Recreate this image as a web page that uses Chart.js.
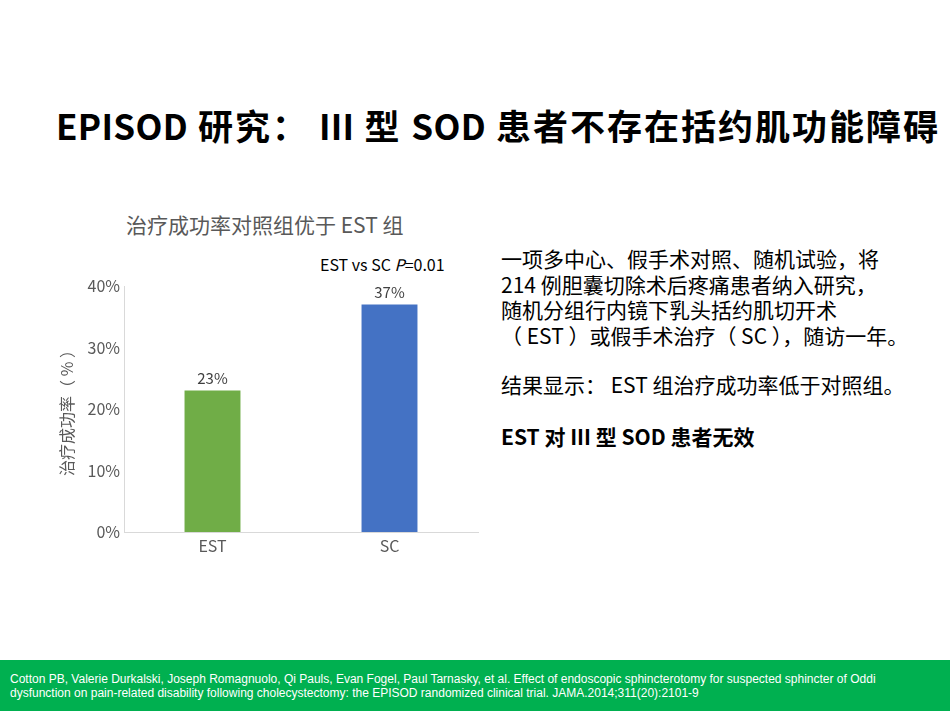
<!DOCTYPE html>
<html>
<head>
<meta charset="utf-8">
<script src="https://cdn.jsdelivr.net/npm/chart.js@4.4.0/dist/chart.umd.min.js"></script>
<style>
  html, body { margin: 0; padding: 0; background: #fff; width: 950px; height: 713px; overflow: hidden; position: relative; font-family: "Noto Sans CJK SC", sans-serif; }
  .titulo { position: absolute; left: 56px; top: 101px; font-size: 35px; line-height: 48px; font-weight: bold; color: #000; white-space: nowrap; letter-spacing: 2px; }
  .titulo span { letter-spacing: 0.3px; }
  .subtitulo { position: absolute; left: 126px; top: 209px; font-size: 21px; color: #595959; white-space: nowrap; }
  .pvalor { position: absolute; left: 320px; top: 252px; font-size: 16px; color: #000; white-space: nowrap; }
  .texto { position: absolute; left: 501px; top: 246px; font-size: 21px; line-height: 25.5px; color: #000; white-space: nowrap; }
  .pie { position: absolute; left: 0; top: 660px; width: 950px; height: 51px; background: #00b050; color: #fff; font-family: "Liberation Sans", Arial, sans-serif; font-size: 12px; line-height: 14px; box-sizing: border-box; padding: 12px 0 0 10px; }
  #graficoExito { position: absolute; left: 0; top: 190px; }
</style>
</head>
<body>
<div class="titulo"><span>EPISOD</span> 研究： <span>III</span> 型 <span>SOD</span> 患者不存在括约肌功能障碍</div>
<div class="subtitulo">治疗成功率对照组优于 EST 组</div>
<div class="pvalor">EST vs SC <i>P</i>=0.01</div>
<div class="texto">
  一项多中心、假手术对照、随机试验，将<br>
  214 例胆囊切除术后疼痛患者纳入研究，<br>
  随机分组行内镜下乳头括约肌切开术<br>
  （ EST ）或假手术治疗（ SC ），随访一年。<br>
  <div style="height:24px"></div>
  结果显示： EST 组治疗成功率低于对照组。<br>
  <div style="height:26px"></div>
  <b>EST 对 III 型 SOD 患者无效</b>
</div>
<canvas id="graficoExito" width="500" height="380" style="width:500px;height:380px"></canvas>
<div class="pie">Cotton PB, Valerie Durkalski, Joseph Romagnuolo, Qi Pauls, Evan Fogel, Paul Tarnasky, et al. Effect of endoscopic sphincterotomy for suspected sphincter of Oddi<br>dysfunction on pain-related disability following cholecystectomy: the EPISOD randomized clinical trial. JAMA.2014;311(20):2101-9</div>

<script>
// Datos del gráfico
const grupos = ['EST', 'SC'];
const tasaExito = [23, 37];
const coloresGrupo = ['#70ad47', '#4472c4'];
const ticksY = [0, 10, 20, 30, 40];

const fuente = "'Noto Sans CJK SC', sans-serif";

// Etiquetas de valor sobre cada barra
const etiquetasValor = {
    id: 'etiquetasValor',
    afterDatasetsDraw(chart) {
        const ctx = chart.ctx;
        const meta = chart.getDatasetMeta(0);
        ctx.save();
        ctx.font = '15px ' + fuente;
        ctx.fillStyle = '#404040';
        ctx.textAlign = 'center';
        ctx.textBaseline = 'bottom';
        meta.data.forEach(function(bar, i) {
            ctx.fillText(tasaExito[i] + '%', bar.x, bar.y - 5);
        });
        ctx.restore();
    }
};

new Chart(document.getElementById('graficoExito').getContext('2d'), {
    type: 'bar',
    data: {
        labels: grupos,
        datasets: [{
            data: tasaExito,
            backgroundColor: coloresGrupo,
            barPercentage: 0.316,
            categoryPercentage: 1
        }]
    },
    options: {
        responsive: false,
        animation: false,
        layout: { padding: { left: 50, top: 96, right: 22, bottom: 8 } },
        plugins: {
            legend: { display: false },
            tooltip: { enabled: false }
        },
        scales: {
            x: {
                grid: { display: false, drawTicks: false },
                border: { display: true, color: '#d9d9d9', width: 1 },
                ticks: { color: '#595959', font: { family: fuente, size: 16 }, padding: 4 },
                afterFit: function(scale) { scale.height = 30; }
            },
            y: {
                min: 0,
                max: 40,
                afterBuildTicks: function(scale) { scale.ticks = ticksY.map(v => ({ value: v })); },
                grid: { display: false, drawTicks: false },
                border: { display: true, color: '#d9d9d9', width: 1 },
                ticks: {
                    color: '#595959',
                    font: { family: fuente, size: 16 },
                    padding: 4,
                    callback: function(v) { return v + '%'; }
                },
                title: {
                    display: true,
                    text: '治疗成功率（ % ）',
                    color: '#595959',
                    font: { family: fuente, size: 16 },
                    padding: { top: 7, bottom: 0 }
                },
                afterFit: function(scale) { scale.width = 74; }
            }
        }
    },
    plugins: [etiquetasValor]
});
</script>
</body>
</html>
